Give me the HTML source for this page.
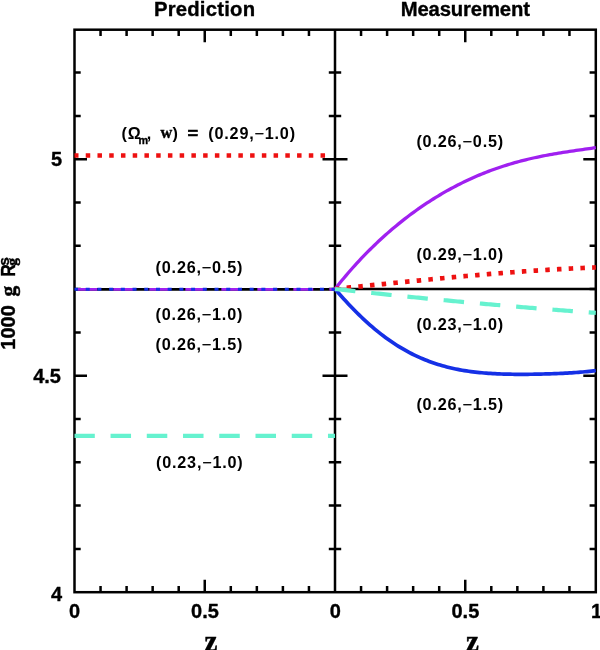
<!DOCTYPE html>
<html><head><meta charset="utf-8"><style>
html,body{margin:0;padding:0;background:#fff;}
body{width:600px;height:650px;overflow:hidden;}
svg{display:block;will-change:transform;}
text{white-space:pre;}
</style></head><body>
<svg width="600" height="650" viewBox="0 0 600 650">
<rect width="600" height="650" fill="#fff"/>
<rect x="74.5" y="29.7" width="521.3" height="562.5" fill="none" stroke="#000" stroke-width="2.5"/>
<line x1="335.0" y1="29.7" x2="335.0" y2="592.2" stroke="#000" stroke-width="2.5"/>
<path d="M100.55 592.2V586.00M100.55 29.7V35.90M126.60 592.2V586.00M126.60 29.7V35.90M152.65 592.2V586.00M152.65 29.7V35.90M178.70 592.2V586.00M178.70 29.7V35.90M204.75 592.2V579.70M204.75 29.7V42.20M230.80 592.2V586.00M230.80 29.7V35.90M256.85 592.2V586.00M256.85 29.7V35.90M282.90 592.2V586.00M282.90 29.7V35.90M308.95 592.2V586.00M308.95 29.7V35.90M361.05 592.2V586.00M361.05 29.7V35.90M387.10 592.2V586.00M387.10 29.7V35.90M413.15 592.2V586.00M413.15 29.7V35.90M439.20 592.2V586.00M439.20 29.7V35.90M465.25 592.2V579.70M465.25 29.7V42.20M491.30 592.2V586.00M491.30 29.7V35.90M517.35 592.2V586.00M517.35 29.7V35.90M543.40 592.2V586.00M543.40 29.7V35.90M569.45 592.2V586.00M569.45 29.7V35.90M74.5 548.90H80.70M595.8 548.90H589.60M328.80 548.90H341.20M74.5 505.60H80.70M595.8 505.60H589.60M328.80 505.60H341.20M74.5 462.30H80.70M595.8 462.30H589.60M328.80 462.30H341.20M74.5 419.00H80.70M595.8 419.00H589.60M328.80 419.00H341.20M74.5 375.70H87.00M595.8 375.70H583.30M322.50 375.70H347.50M74.5 332.40H80.70M595.8 332.40H589.60M328.80 332.40H341.20M74.5 289.10H80.70M595.8 289.10H589.60M328.80 289.10H341.20M74.5 245.80H80.70M595.8 245.80H589.60M328.80 245.80H341.20M74.5 202.50H80.70M595.8 202.50H589.60M328.80 202.50H341.20M74.5 159.20H87.00M595.8 159.20H583.30M322.50 159.20H347.50M74.5 115.90H80.70M595.8 115.90H589.60M328.80 115.90H341.20M74.5 72.60H80.70M595.8 72.60H589.60M328.80 72.60H341.20" stroke="#000" stroke-width="2.5" fill="none"/>
<line x1="74.5" y1="155.5" x2="327" y2="155.5" stroke="#ee1111" stroke-width="4.7" stroke-dasharray="4.5 7.24" stroke-dashoffset="0.5"/>
<line x1="74.5" y1="435.8" x2="335.0" y2="435.8" stroke="#66f2cf" stroke-width="4.2" stroke-dasharray="20.5 15.74" stroke-dashoffset="0.2"/>
<line x1="74.5" y1="289.3" x2="335.0" y2="289.3" stroke="#000" stroke-width="2.7"/>
<line x1="74.5" y1="289.3" x2="335.0" y2="289.3" stroke="#a020f0" stroke-width="2.7" stroke-dasharray="19.9 16.1" stroke-dashoffset="33.15"/>
<line x1="74.5" y1="289.3" x2="335.0" y2="289.3" stroke="#1530e6" stroke-width="2.9" stroke-dasharray="4 7.71" stroke-dashoffset="0.5"/>
<line x1="335.0" y1="289.0" x2="595.8" y2="289.0" stroke="#000" stroke-width="2.7"/>
<polyline points="335.00,289.00 337.19,286.23 339.38,283.51 341.57,280.83 343.77,278.18 345.96,275.58 348.15,273.02 350.34,270.51 352.53,268.02 354.72,265.58 356.92,263.18 359.11,260.81 361.30,258.48 363.49,256.18 365.68,253.92 367.87,251.70 370.07,249.50 372.26,247.34 374.45,245.22 376.64,243.13 378.83,241.06 381.02,239.03 383.22,237.04 385.41,235.07 387.60,233.13 389.79,231.22 391.98,229.34 394.17,227.49 396.36,225.67 398.56,223.87 400.75,222.11 402.94,220.37 405.13,218.66 407.32,216.97 409.51,215.31 411.71,213.68 413.90,212.08 416.09,210.50 418.28,208.94 420.47,207.41 422.66,205.91 424.86,204.43 427.05,202.97 429.24,201.54 431.43,200.14 433.62,198.75 435.81,197.39 438.01,196.06 440.20,194.74 442.39,193.45 444.58,192.19 446.77,190.94 448.96,189.72 451.15,188.52 453.35,187.34 455.54,186.19 457.73,185.06 459.92,183.95 462.11,182.86 464.30,181.79 466.50,180.74 468.69,179.71 470.88,178.71 473.07,177.72 475.26,176.76 477.45,175.81 479.65,174.89 481.84,173.99 484.03,173.10 486.22,172.24 488.41,171.39 490.60,170.57 492.79,169.76 494.99,168.98 497.18,168.21 499.37,167.46 501.56,166.72 503.75,166.01 505.94,165.31 508.14,164.64 510.33,163.97 512.52,163.33 514.71,162.70 516.90,162.09 519.09,161.50 521.29,160.92 523.48,160.35 525.67,159.81 527.86,159.27 530.05,158.75 532.24,158.25 534.44,157.76 536.63,157.28 538.82,156.82 541.01,156.37 543.20,155.93 545.39,155.50 547.58,155.08 549.78,154.68 551.97,154.28 554.16,153.90 556.35,153.52 558.54,153.15 560.73,152.80 562.93,152.44 565.12,152.10 567.31,151.76 569.50,151.43 571.69,151.10 573.88,150.78 576.08,150.46 578.27,150.14 580.46,149.83 582.65,149.52 584.84,149.21 587.03,148.90 589.23,148.58 591.42,148.27 593.61,147.95 595.80,147.63" fill="none" stroke="#a020f0" stroke-width="3.3" stroke-linejoin="round"/>
<polyline points="335.00,289.00 337.19,291.55 339.38,294.06 341.57,296.54 343.77,298.97 345.96,301.37 348.15,303.73 350.34,306.05 352.53,308.33 354.72,310.57 356.92,312.77 359.11,314.93 361.30,317.04 363.49,319.11 365.68,321.14 367.87,323.12 370.07,325.06 372.26,326.96 374.45,328.81 376.64,330.62 378.83,332.39 381.02,334.11 383.22,335.79 385.41,337.43 387.60,339.02 389.79,340.57 391.98,342.07 394.17,343.53 396.36,344.95 398.56,346.33 400.75,347.67 402.94,348.96 405.13,350.22 407.32,351.43 409.51,352.60 411.71,353.73 413.90,354.83 416.09,355.88 418.28,356.90 420.47,357.88 422.66,358.82 424.86,359.72 427.05,360.59 429.24,361.43 431.43,362.23 433.62,363.00 435.81,363.73 438.01,364.43 440.20,365.10 442.39,365.74 444.58,366.34 446.77,366.92 448.96,367.47 451.15,367.99 453.35,368.49 455.54,368.95 457.73,369.40 459.92,369.81 462.11,370.20 464.30,370.57 466.50,370.92 468.69,371.24 470.88,371.55 473.07,371.83 475.26,372.10 477.45,372.34 479.65,372.57 481.84,372.78 484.03,372.97 486.22,373.14 488.41,373.31 490.60,373.45 492.79,373.58 494.99,373.70 497.18,373.81 499.37,373.91 501.56,373.99 503.75,374.06 505.94,374.12 508.14,374.17 510.33,374.22 512.52,374.25 514.71,374.28 516.90,374.30 519.09,374.31 521.29,374.31 523.48,374.31 525.67,374.30 527.86,374.28 530.05,374.26 532.24,374.23 534.44,374.20 536.63,374.16 538.82,374.12 541.01,374.07 543.20,374.02 545.39,373.96 547.58,373.90 549.78,373.83 551.97,373.75 554.16,373.67 556.35,373.59 558.54,373.50 560.73,373.40 562.93,373.30 565.12,373.19 567.31,373.07 569.50,372.94 571.69,372.81 573.88,372.66 576.08,372.51 578.27,372.34 580.46,372.16 582.65,371.98 584.84,371.77 587.03,371.56 589.23,371.33 591.42,371.08 593.61,370.81 595.80,370.53" fill="none" stroke="#1530e6" stroke-width="3.7" stroke-linejoin="round"/>
<polyline points="335.00,289.00 337.19,288.78 339.38,288.55 341.57,288.33 343.77,288.10 345.96,287.87 348.15,287.65 350.34,287.42 352.53,287.20 354.72,286.97 356.92,286.75 359.11,286.52 361.30,286.30 363.49,286.07 365.68,285.85 367.87,285.62 370.07,285.40 372.26,285.17 374.45,284.95 376.64,284.72 378.83,284.50 381.02,284.28 383.22,284.05 385.41,283.83 387.60,283.61 389.79,283.39 391.98,283.16 394.17,282.94 396.36,282.72 398.56,282.50 400.75,282.28 402.94,282.06 405.13,281.84 407.32,281.62 409.51,281.41 411.71,281.19 413.90,280.97 416.09,280.76 418.28,280.54 420.47,280.33 422.66,280.11 424.86,279.90 427.05,279.69 429.24,279.47 431.43,279.26 433.62,279.05 435.81,278.84 438.01,278.64 440.20,278.43 442.39,278.22 444.58,278.02 446.77,277.81 448.96,277.61 451.15,277.41 453.35,277.20 455.54,277.00 457.73,276.80 459.92,276.61 462.11,276.41 464.30,276.21 466.50,276.02 468.69,275.82 470.88,275.63 473.07,275.44 475.26,275.25 477.45,275.06 479.65,274.87 481.84,274.69 484.03,274.50 486.22,274.32 488.41,274.14 490.60,273.96 492.79,273.78 494.99,273.60 497.18,273.43 499.37,273.25 501.56,273.08 503.75,272.91 505.94,272.74 508.14,272.57 510.33,272.40 512.52,272.24 514.71,272.07 516.90,271.91 519.09,271.75 521.29,271.60 523.48,271.44 525.67,271.28 527.86,271.13 530.05,270.98 532.24,270.83 534.44,270.69 536.63,270.54 538.82,270.40 541.01,270.26 543.20,270.12 545.39,269.98 547.58,269.84 549.78,269.71 551.97,269.58 554.16,269.45 556.35,269.32 558.54,269.20 560.73,269.08 562.93,268.96 565.12,268.84 567.31,268.72 569.50,268.61 571.69,268.50 573.88,268.39 576.08,268.28 578.27,268.18 580.46,268.08 582.65,267.98 584.84,267.88 587.03,267.78 589.23,267.69 591.42,267.60 593.61,267.51 595.80,267.43" fill="none" stroke="#ee1111" stroke-width="4.7" stroke-dasharray="4.5 7.23" stroke-dashoffset="0"/>
<polyline points="335.00,289.00 337.19,289.24 339.38,289.48 341.57,289.73 343.77,289.97 345.96,290.20 348.15,290.44 350.34,290.68 352.53,290.92 354.72,291.15 356.92,291.39 359.11,291.63 361.30,291.86 363.49,292.09 365.68,292.33 367.87,292.56 370.07,292.79 372.26,293.02 374.45,293.25 376.64,293.48 378.83,293.71 381.02,293.94 383.22,294.16 385.41,294.39 387.60,294.62 389.79,294.84 391.98,295.07 394.17,295.29 396.36,295.51 398.56,295.74 400.75,295.96 402.94,296.18 405.13,296.40 407.32,296.62 409.51,296.84 411.71,297.06 413.90,297.27 416.09,297.49 418.28,297.71 420.47,297.92 422.66,298.14 424.86,298.35 427.05,298.56 429.24,298.77 431.43,298.99 433.62,299.20 435.81,299.41 438.01,299.62 440.20,299.83 442.39,300.03 444.58,300.24 446.77,300.45 448.96,300.66 451.15,300.86 453.35,301.07 455.54,301.27 457.73,301.47 459.92,301.68 462.11,301.88 464.30,302.08 466.50,302.28 468.69,302.48 470.88,302.68 473.07,302.88 475.26,303.07 477.45,303.27 479.65,303.47 481.84,303.66 484.03,303.86 486.22,304.05 488.41,304.24 490.60,304.44 492.79,304.63 494.99,304.82 497.18,305.01 499.37,305.20 501.56,305.39 503.75,305.58 505.94,305.77 508.14,305.95 510.33,306.14 512.52,306.33 514.71,306.51 516.90,306.69 519.09,306.88 521.29,307.06 523.48,307.24 525.67,307.42 527.86,307.61 530.05,307.79 532.24,307.96 534.44,308.14 536.63,308.32 538.82,308.50 541.01,308.67 543.20,308.85 545.39,309.03 547.58,309.20 549.78,309.37 551.97,309.55 554.16,309.72 556.35,309.89 558.54,310.06 560.73,310.23 562.93,310.40 565.12,310.57 567.31,310.74 569.50,310.90 571.69,311.07 573.88,311.24 576.08,311.40 578.27,311.57 580.46,311.73 582.65,311.89 584.84,312.06 587.03,312.22 589.23,312.38 591.42,312.54 593.61,312.70 595.80,312.86" fill="none" stroke="#66f2cf" stroke-width="4.2" stroke-dasharray="20.5 15.9" stroke-dashoffset="0"/>
<text x="204.6" y="16.3" font-family="Liberation Sans, sans-serif" font-weight="bold" stroke="#000" stroke-width="0.35" stroke-linejoin="round" font-size="20.3" text-anchor="middle" letter-spacing="0.22">Prediction</text>
<text x="465.3" y="15.6" font-family="Liberation Sans, sans-serif" font-weight="bold" stroke="#000" stroke-width="0.35" stroke-linejoin="round" font-size="20.3" text-anchor="middle" letter-spacing="-0.15">Measurement</text>
<text x="62" y="166.2" font-family="Liberation Sans, sans-serif" font-weight="bold" stroke="#000" stroke-width="0.35" stroke-linejoin="round" font-size="20" text-anchor="end">5</text>
<text x="61" y="383.4" font-family="Liberation Sans, sans-serif" font-weight="bold" stroke="#000" stroke-width="0.35" stroke-linejoin="round" font-size="20" text-anchor="end">4.5</text>
<text x="62" y="600.6" font-family="Liberation Sans, sans-serif" font-weight="bold" stroke="#000" stroke-width="0.35" stroke-linejoin="round" font-size="20" text-anchor="end">4</text>
<text x="74.6" y="617.5" font-family="Liberation Sans, sans-serif" font-weight="bold" stroke="#000" stroke-width="0.35" stroke-linejoin="round" font-size="20" text-anchor="middle">0</text>
<text x="205" y="617.5" font-family="Liberation Sans, sans-serif" font-weight="bold" stroke="#000" stroke-width="0.35" stroke-linejoin="round" font-size="20" text-anchor="middle">0.5</text>
<text x="335.4" y="617.5" font-family="Liberation Sans, sans-serif" font-weight="bold" stroke="#000" stroke-width="0.35" stroke-linejoin="round" font-size="20" text-anchor="middle">0</text>
<text x="465.4" y="617.5" font-family="Liberation Sans, sans-serif" font-weight="bold" stroke="#000" stroke-width="0.35" stroke-linejoin="round" font-size="20" text-anchor="middle">0.5</text>
<text x="596.5" y="617.5" font-family="Liberation Sans, sans-serif" font-weight="bold" stroke="#000" stroke-width="0.35" stroke-linejoin="round" font-size="20" text-anchor="middle">1</text>
<text x="211" y="650.5" font-family="Liberation Serif, serif" font-weight="bold" stroke="#000" stroke-width="0.5" font-size="29" text-anchor="middle">z</text>
<text x="472.5" y="650.5" font-family="Liberation Serif, serif" font-weight="bold" stroke="#000" stroke-width="0.5" font-size="29" text-anchor="middle">z</text>
<g transform="translate(15,348) rotate(-90)"><text x="-1.7" y="0" font-family="Liberation Sans, sans-serif" font-weight="bold" stroke="#000" stroke-width="0.35" stroke-linejoin="round" font-size="20">1000</text><text x="51.6" y="0.3" font-family="Liberation Serif, serif" font-weight="bold" stroke="#000" stroke-width="0.5" font-size="21.5">g</text><text x="71.2" y="0" font-family="Liberation Sans, sans-serif" font-weight="bold" stroke="#000" stroke-width="0.35" stroke-linejoin="round" font-size="20" textLength="12.6" lengthAdjust="spacingAndGlyphs">R</text><text x="82.3" y="-6.2" font-family="Liberation Sans, sans-serif" font-weight="bold" stroke="#000" stroke-width="0.35" stroke-linejoin="round" font-size="15.5" stroke-width="0.8">s</text><text x="82.3" y="2.4" font-family="Liberation Serif, serif" font-weight="bold" stroke="#000" stroke-width="0.5" font-size="15.5" stroke-width="0.8">g</text></g>
<text x="155.6" y="272.6" font-family="Liberation Sans, sans-serif" font-weight="bold" font-size="16.2" letter-spacing="0.8">(0.26,<tspan font-weight="normal" stroke="#000" stroke-width="0.3">−</tspan>0.5)</text>
<text x="155.6" y="319.6" font-family="Liberation Sans, sans-serif" font-weight="bold" font-size="16.2" letter-spacing="0.8">(0.26,<tspan font-weight="normal" stroke="#000" stroke-width="0.3">−</tspan>1.0)</text>
<text x="155.6" y="350.2" font-family="Liberation Sans, sans-serif" font-weight="bold" font-size="16.2" letter-spacing="0.8">(0.26,<tspan font-weight="normal" stroke="#000" stroke-width="0.3">−</tspan>1.5)</text>
<text x="156.0" y="467.6" font-family="Liberation Sans, sans-serif" font-weight="bold" font-size="16.2" letter-spacing="0.8">(0.23,<tspan font-weight="normal" stroke="#000" stroke-width="0.3">−</tspan>1.0)</text>
<text x="416.4" y="147.4" font-family="Liberation Sans, sans-serif" font-weight="bold" font-size="16.2" letter-spacing="0.8">(0.26,<tspan font-weight="normal" stroke="#000" stroke-width="0.3">−</tspan>0.5)</text>
<text x="416.4" y="259.6" font-family="Liberation Sans, sans-serif" font-weight="bold" font-size="16.2" letter-spacing="0.8">(0.29,<tspan font-weight="normal" stroke="#000" stroke-width="0.3">−</tspan>1.0)</text>
<text x="416.4" y="329.6" font-family="Liberation Sans, sans-serif" font-weight="bold" font-size="16.2" letter-spacing="0.8">(0.23,<tspan font-weight="normal" stroke="#000" stroke-width="0.3">−</tspan>1.0)</text>
<text x="416.4" y="410.2" font-family="Liberation Sans, sans-serif" font-weight="bold" font-size="16.2" letter-spacing="0.8">(0.26,<tspan font-weight="normal" stroke="#000" stroke-width="0.3">−</tspan>1.5)</text>
<text x="121.5" y="138.6" font-family="Liberation Sans, sans-serif" font-weight="bold" font-size="16.2" letter-spacing="0.8">(Ω</text>
<text x="138.6" y="143.6" font-family="Liberation Sans, sans-serif" font-weight="bold" font-size="10.8" stroke="#000" stroke-width="0.35">m</text>
<text x="146.7" y="138.6" font-family="Liberation Sans, sans-serif" font-weight="bold" font-size="16.2" letter-spacing="0.8">,</text>
<text x="160.6" y="138.3" font-family="Liberation Serif, serif" font-weight="bold" font-size="16.2" stroke="#000" stroke-width="0.4">w</text>
<text x="172.4" y="138.6" font-family="Liberation Sans, sans-serif" font-weight="bold" font-size="16.2" letter-spacing="0.8">)</text>
<text x="187.6" y="138.6" font-family="Liberation Sans, sans-serif" font-weight="bold" font-size="16.2" letter-spacing="0.8" textLength="11.6" lengthAdjust="spacingAndGlyphs" stroke="#000" stroke-width="0.5">=</text>
<text x="208.3" y="138.6" font-family="Liberation Sans, sans-serif" font-weight="bold" font-size="16.2" letter-spacing="0.8">(0.29,<tspan font-weight="normal" stroke="#000" stroke-width="0.3">−</tspan>1.0)</text>
</svg>
</body></html>
